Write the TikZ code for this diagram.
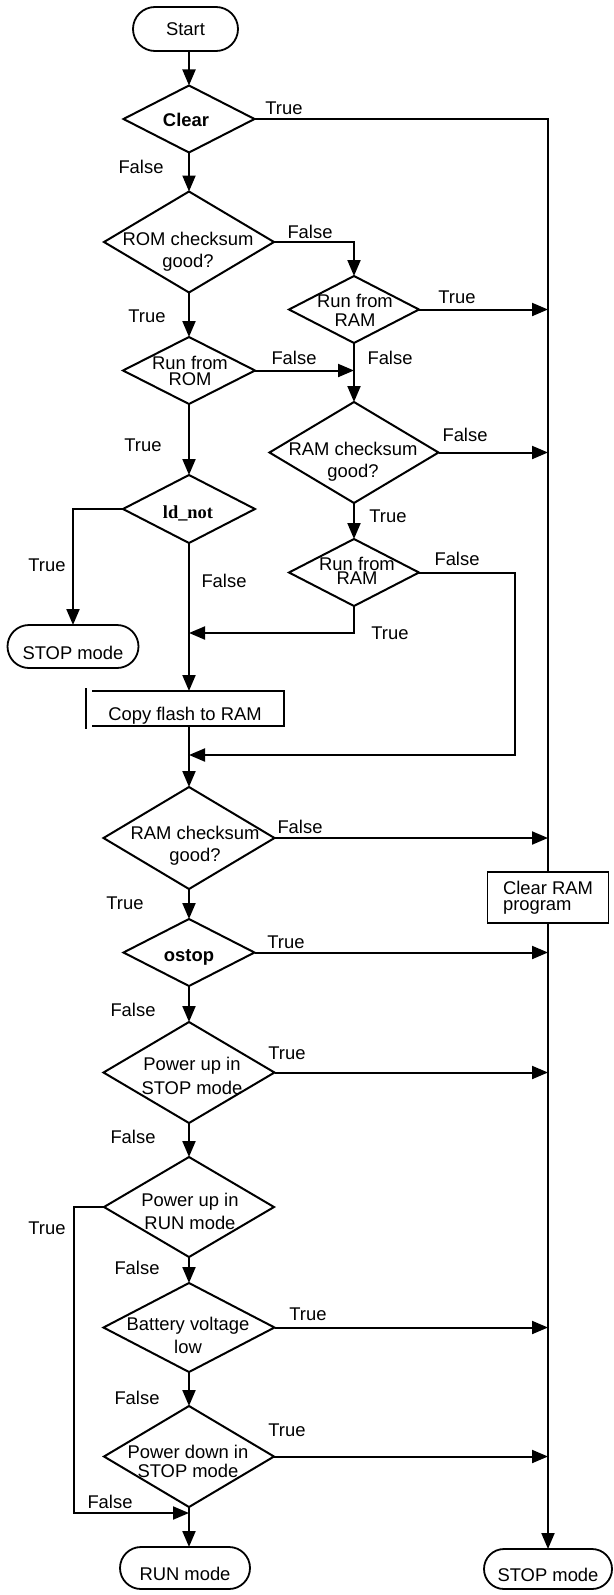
\documentclass[tikz,border=0pt]{standalone}
\usepackage{fontspec}
\setmainfont{Liberation Sans}
\newfontfamily\timesfont{Liberation Serif}
\usepackage{tikz}
\usetikzlibrary{arrows.meta,positioning,shapes.geometric,shapes.misc}
\tikzset{
  ar/.style={-{Triangle[length=16pt,width=13pt]},line width=2pt},
  ln/.style={line width=2pt},
  dec/.style={draw,diamond,line width=2pt,inner sep=0pt,outer sep=0pt},
  term/.style={draw,rounded rectangle,line width=1.8pt,inner sep=0pt,outer sep=0pt,minimum width=130pt,minimum height=42pt,text height=25pt,text depth=0pt},
  box/.style={draw,line width=2pt,inner sep=0pt,outer sep=0pt},
  txt/.style={align=center,inner sep=0pt},
  lbl/.style={inner sep=0pt}
}

\begin{document}
\begin{tikzpicture}[x=1pt,y=-1pt,font=\fontsize{18.4}{22}\selectfont]
\useasboundingbox (0,0) rectangle (613,1595);
% terminals
\node[term,minimum width=105pt,minimum height=44pt,text height=13pt] (start) at (185.5,29) {Start};
\node[term,minimum width=131pt,minimum height=43pt] (stopl) at (73,646.5) {STOP mode};
\node[term] (runm) at (185,1568) {RUN mode};
\node[term,minimum width=128pt,minimum height=40pt] (stopr) at (548,1569) {STOP mode};
% decisions
\node[dec,minimum width=131pt,minimum height=67pt] (clear) at (189,119) {};
\node[dec,minimum width=170pt,minimum height=101pt] (rom) at (189,242) {};
\node[dec,minimum width=130pt,minimum height=67pt] (ramrun) at (354,309.5) {};
\node[dec,minimum width=132pt,minimum height=67pt] (romrun) at (189,370.5) {};
\node[dec,minimum width=169pt,minimum height=101pt] (ramck) at (354,452.5) {};
\node[dec,minimum width=132pt,minimum height=68pt] (ldnot) at (189,509) {};
\node[dec,minimum width=130pt,minimum height=67pt] (ramrunb) at (354,572.5) {};
\node[dec,minimum width=171pt,minimum height=102pt] (ramckb) at (189,838) {};
\node[dec,minimum width=131pt,minimum height=67pt] (ostop) at (189,952.5) {};
\node[dec,minimum width=171pt,minimum height=101pt] (pstop) at (189,1072.5) {};
\node[dec,minimum width=170pt,minimum height=100pt] (prun) at (189,1207) {};
\node[dec,minimum width=171pt,minimum height=89pt] (batt) at (189,1327.5) {};
\node[dec,minimum width=170pt,minimum height=101pt] (pdown) at (189,1456.5) {};
% decision texts
\node[txt] (cleart) at (186,120) {\textbf{Clear}};
\node[txt] (romt) at (188,252) {ROM checksum\\good?};
\node[txt,font=\fontsize{18.4}{19}\selectfont] (ramrunt) at (355,310) {Run from\\RAM};
\node[txt,font=\fontsize{18.4}{16}\selectfont] (romrunt) at (190,371) {Run from\\ROM};
\node[txt] (ramckt) at (353,462) {RAM checksum\\good?};
\node[txt] (ldnott) at (188,513) {\timesfont\bfseries ld\_not};
\node[txt,font=\fontsize{18.4}{14}\selectfont] (ramrunbt) at (357,571) {Run from\\RAM};
\node[txt] (ramckbt) at (195,846) {RAM checksum\\good?};
\node[txt] (ostopt) at (189,957) {\textbf{ostop}};
\node[txt,font=\fontsize{18.4}{24}\selectfont] (pstopt) at (192,1076) {Power up in\\STOP mode};
\node[txt,font=\fontsize{18.4}{23}\selectfont] (prunt) at (190,1211) {Power up in\\RUN mode};
\node[txt,font=\fontsize{18.4}{23}\selectfont] (battt) at (188,1335) {Battery voltage\\low};
\node[txt,font=\fontsize{18.4}{19}\selectfont] (pdownt) at (188,1461) {Power down in\\STOP mode};
% boxes
\node[inner sep=0pt,outer sep=0pt,minimum width=198pt,minimum height=35pt,text height=24pt,text depth=0pt] (copy) at (185,708.5) {Copy flash to RAM};
\draw[ln] ([xshift=6pt]copy.north west) -- (copy.north east) -- (copy.south east) -- ([xshift=6pt]copy.south west);
\draw[ln] ([yshift=3pt]copy.north west) -- ([yshift=-3pt]copy.south west);
\node[box,line width=1.3pt,minimum width=121pt,minimum height=51pt,align=left,font=\fontsize{18.4}{16}\selectfont] (clrram) at (548,897.5) {Clear RAM\\program};
% labels
\node[lbl] (t1) at (284,108) {True};
\node[lbl] (f1) at (141,167) {False};
\node[lbl] (f2) at (310,232) {False};
\node[lbl] (t2) at (147,316) {True};
\node[lbl] (t3) at (457,297) {True};
\node[lbl] (f3) at (294,358) {False};
\node[lbl] (f4) at (390,358) {False};
\node[lbl] (f5) at (465,435) {False};
\node[lbl] (t4) at (143,445) {True};
\node[lbl] (t5) at (388,516) {True};
\node[lbl] (t6) at (47,565) {True};
\node[lbl] (f6) at (224,581) {False};
\node[lbl] (f7) at (457,559) {False};
\node[lbl] (t7) at (390,633) {True};
\node[lbl] (f8) at (300,827) {False};
\node[lbl] (t8) at (125,903) {True};
\node[lbl] (t9) at (286,942) {True};
\node[lbl] (f9) at (133,1010) {False};
\node[lbl] (t10) at (287,1053) {True};
\node[lbl] (f10) at (133,1137) {False};
\node[lbl] (t11) at (47,1228) {True};
\node[lbl] (f11) at (137,1268) {False};
\node[lbl] (t12) at (308,1314) {True};
\node[lbl] (f12) at (137,1398) {False};
\node[lbl] (t13) at (287,1430) {True};
\node[lbl] (f13) at (110,1502) {False};
% joins
\coordinate (back) at (189,633);
\coordinate (ret) at (515,755);
\coordinate (join) at (189,755);
\coordinate (runleft) at (74,1207);
\coordinate (runin) at (189,1513);
% connectors
\draw[ar] (start.south -| clear.north) -- (clear.north);
\draw[ln] (clear.east) -| (clrram.north);
\draw[ar] (clrram.south) -- (stopr.north);
\draw[ar] (clear.south) -- (rom.north);
\draw[ar] (rom.east) -| (ramrun.north);
\draw[ar] (ramrun.east) -- (ramrun.east -| clrram.north);
\draw[ar] (ramrun.south) -- (ramck.north);
\draw[ar] (rom.south) -- (romrun.north);
\draw[ar] (romrun.east) -- (romrun.east -| ramrun.south);
\draw[ar] (ramck.east) -- (ramck.east -| clrram.north);
\draw[ar] (romrun.south) -- (ldnot.north);
\draw[ar] (ramck.south) -- (ramrunb.north);
\draw[ar] (ldnot.west) -| (stopl.north);
\draw[ar] (ldnot.south) -- (ldnot.south |- copy.north);
\draw[ar] (ramrunb.south) |- (back);
\draw[ar] (ramrunb.east) -| (ret) -- (join);
\draw[ar] (copy.south -| ramckb.north) -- (ramckb.north);
\draw[ar] (ramckb.east) -- (ramckb.east -| clrram.north);
\draw[ar] (ramckb.south) -- (ostop.north);
\draw[ar] (ostop.east) -- (ostop.east -| clrram.north);
\draw[ar] (ostop.south) -- (pstop.north);
\draw[ar] (pstop.east) -- (pstop.east -| clrram.north);
\draw[ar] (pstop.south) -- (prun.north);
\draw[ar] (prun.west) -- (runleft) |- (runin);
\draw[ar] (prun.south) -- (batt.north);
\draw[ar] (batt.east) -- (batt.east -| clrram.north);
\draw[ar] (batt.south) -- (pdown.north);
\draw[ar] (pdown.east) -- (pdown.east -| clrram.north);
\draw[ar] (pdown.south) -- (runm.north -| pdown.south);
\end{tikzpicture}
\end{document}
